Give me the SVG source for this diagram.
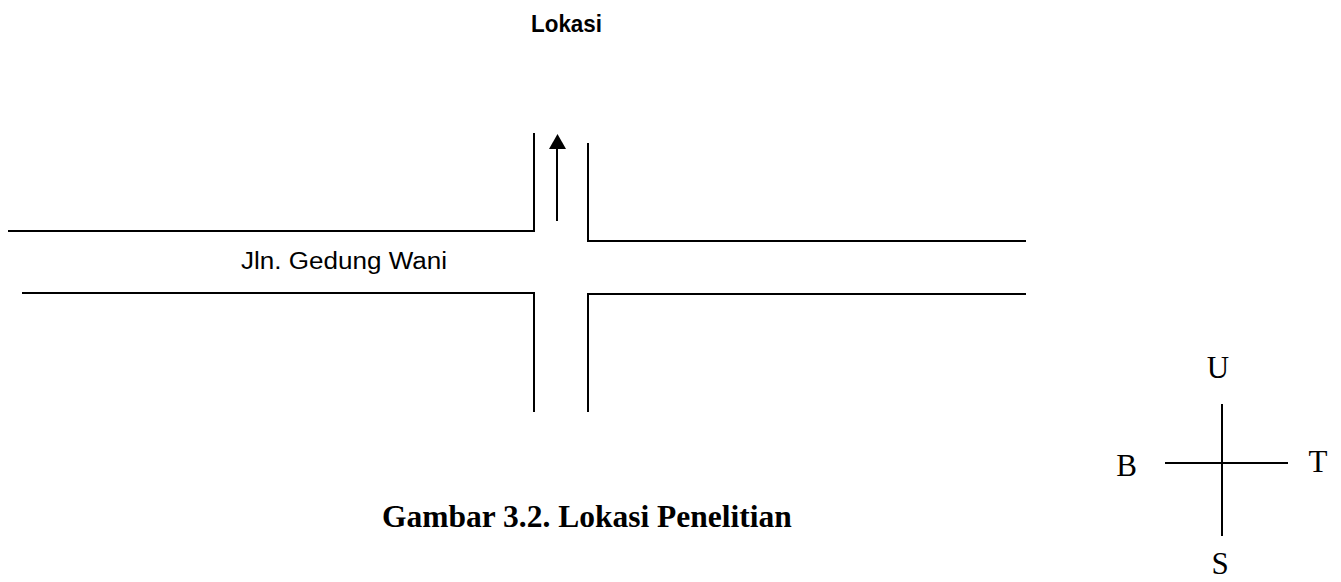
<svg xmlns="http://www.w3.org/2000/svg" width="1341" height="582" viewBox="0 0 1341 582">
<style>
.ln{fill:none;stroke:#000;stroke-width:2}
.sans{font-family:"Liberation Sans",Arial,sans-serif;fill:#000}
.serif{font-family:"Liberation Serif","Times New Roman",serif;fill:#000}
.dir{font-size:31px;text-anchor:middle}
</style>
<rect width="1341" height="582" fill="#fff"/>
<g id="title">
<text class="sans" x="531" y="32" font-size="24" font-weight="bold" textLength="71" lengthAdjust="spacingAndGlyphs">Lokasi</text>
</g>
<g id="roads">
<polyline class="ln" points="8,231 534,231 534,133"/>
<polyline class="ln" points="588,143 588,241 1026,241"/>
<polyline class="ln" points="22,293 534,293 534,412"/>
<polyline class="ln" points="588,412 588,294 1026,294"/>
</g>
<g id="road-label">
<text class="sans" x="241" y="269" font-size="23" textLength="206" lengthAdjust="spacingAndGlyphs">Jln. Gedung Wani</text>
</g>
<g id="connectors">
<line class="ln" x1="557" y1="221" x2="557" y2="149"/>
<polygon points="549,149 566,149 557.5,134" fill="#000"/>
</g>
<g id="compass">
<line class="ln" x1="1222" y1="404" x2="1222" y2="536"/>
<line class="ln" x1="1165" y1="463" x2="1288" y2="463"/>
<text class="serif dir" x="1218" y="378">U</text>
<text class="serif dir" x="1126.5" y="476">B</text>
<text class="serif dir" x="1318" y="472">T</text>
<text class="serif dir" x="1220" y="574">S</text>
</g>
<g id="caption">
<text class="serif" x="382" y="527" font-size="31.5" font-weight="bold">Gambar 3.2. Lokasi Penelitian</text>
</g>
</svg>
